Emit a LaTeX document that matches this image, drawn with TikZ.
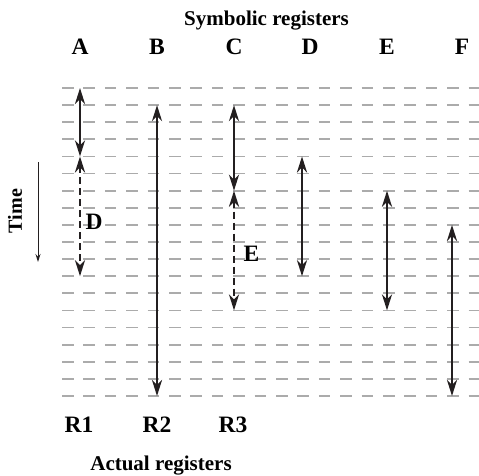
\documentclass[tikz,border=0pt]{standalone}
\usepackage{fontspec}
\setmainfont{Liberation Serif}
\usepackage{tikz}
\usetikzlibrary{arrows.meta}
\definecolor{ink}{HTML}{231F20}
\definecolor{rule}{HTML}{ABABAB}

\begin{document}
\begin{tikzpicture}[
    x=1pt, y=-1pt,
    >={Stealth[length=16pt, width=10pt, inset=5pt]},
    reg/.style={font=\fontsize{23.5}{28}\selectfont\bfseries, inner sep=0pt},
    lbl/.style={font=\fontsize{21}{25}\selectfont\bfseries, inner sep=0pt},
    slot/.style={draw=rule, line width=1.7pt, dash pattern=on 11.5pt off 9.9pt},
    life/.style={<->, draw=ink, line width=2.6pt},
    spill/.style={life, dash pattern=on 7pt off 4pt},
    timearr/.style={-{Stealth[length=8pt, width=5pt]}, draw=ink, line width=1pt}
]
\useasboundingbox (0,0) rectangle (479,475);
% time slots
\foreach \k in {0,...,18}
  \draw[slot] (62,{88+17.11*\k}) -- (479,{88+17.11*\k});
\node[lbl, anchor=base] (symb) at (266.5,25) {Symbolic registers};
\node[reg] (colA) at (80,46.5) {A};
\node[reg] (colB) at (157,46.5) {B};
\node[reg] (colC) at (234,46.5) {C};
\node[reg] (colD) at (310,46.5) {D};
\node[reg] (colE) at (387,46.5) {E};
\node[reg] (colF) at (462,46.5) {F};
\node[font=\fontsize{20}{24}\selectfont\bfseries, inner sep=0pt, rotate=90] (time) at (15,211) {Time};
\coordinate (tTop) at (38,162);
\coordinate (tBot) at (38,262);
\coordinate (aTop) at (80,88);
\coordinate (aMid) at (80,156.4);
\coordinate (aBot) at (80,276.2);
\coordinate (bTop) at (157,105.1);
\coordinate (bBot) at (157,396);
\coordinate (cTop) at (234,105.1);
\coordinate (cMid) at (234,190.7);
\coordinate (cBot) at (234,310.4);
\coordinate (dTop) at (302,156.4);
\coordinate (dBot) at (302,276.2);
\coordinate (eTop) at (387,190.7);
\coordinate (eBot) at (387,310.4);
\coordinate (fTop) at (452,224.9);
\coordinate (fBot) at (452,396);
\node[reg] (spillD) at (94,222) {D};
\node[reg] (spillE) at (251.5,254) {E};
\node[reg, anchor=base] (regR1) at (79,432.5) {R1};
\node[reg, anchor=base] (regR2) at (157,432.5) {R2};
\node[reg, anchor=base] (regR3) at (233,432.5) {R3};
\node[lbl, anchor=base] (actual) at (161,470) {Actual registers};
\draw[timearr] (tTop) -- (tBot);
\draw[life] (aTop) -- (aMid);
\draw[spill] (aMid) -- (aBot);
\draw[life] (bTop) -- (bBot);
\draw[life] (cTop) -- (cMid);
\draw[spill] (cMid) -- (cBot);
\draw[life] (dTop) -- (dBot);
\draw[life] (eTop) -- (eBot);
\draw[life] (fTop) -- (fBot);
\end{tikzpicture}
\end{document}
